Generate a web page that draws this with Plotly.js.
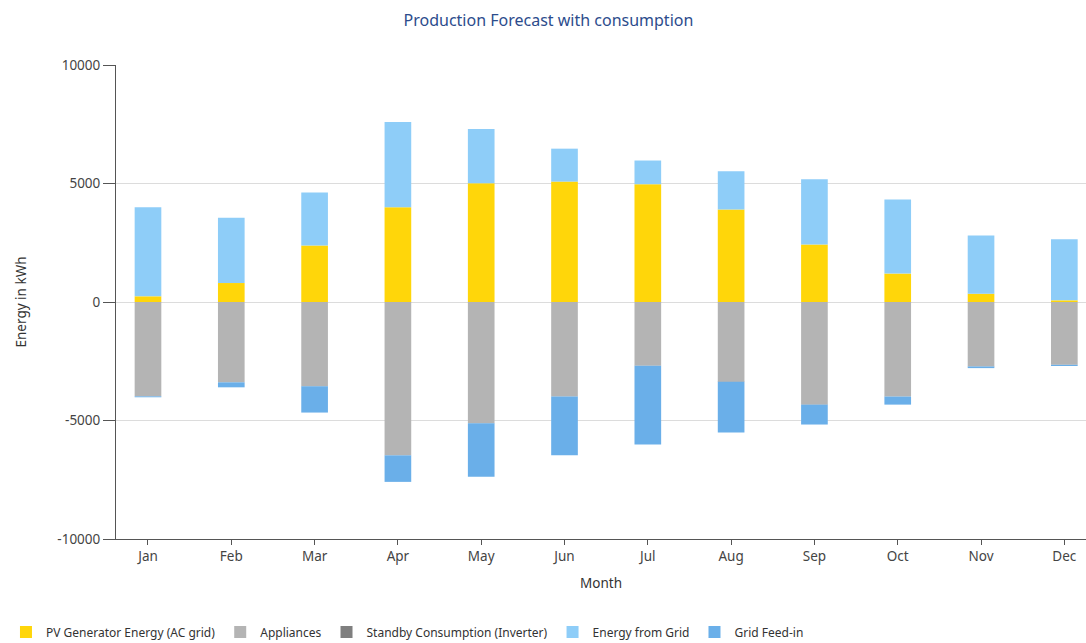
<!DOCTYPE html>
<html>
<head>
<meta charset="utf-8">
<script src="https://cdn.plot.ly/plotly-3.0.1.min.js"></script>
<style>html,body{margin:0;padding:0;background:#fff;}#chart{width:1086px;height:643px;}</style>
</head>
<body>
<div id="chart"></div>
<script>
var months = ['Jan','Feb','Mar','Apr','May','Jun','Jul','Aug','Sep','Oct','Nov','Dec'];
var pvGenerator = [240, 800, 2380, 4000, 5010, 5080, 4970, 3900, 2430, 1200, 350, 70];
var energyFromGrid = [3760, 2750, 2240, 3600, 2290, 1390, 1000, 1620, 2750, 3130, 2460, 2580];
var appliances = [-3970, -3380, -3545, -6460, -5110, -3980, -2680, -3360, -4320, -3980, -2710, -2640];
var standby = [-10, -10, -10, -10, -10, -10, -10, -10, -10, -10, -10, -10];
var gridFeedIn = [-40, -210, -1110, -1120, -2250, -2480, -3320, -2140, -840, -340, -70, -50];
var yTickVals = [-10000, -5000, 0, 5000, 10000];
var yTickText = ['-10000', '-5000', '0', '5000', '10000'];

var FONT = 'Noto Sans, Liberation Sans, sans-serif';
var bw = 0.32;
function bar(name, y, color) {
  return {type: 'bar', name: name, x: months, y: y, width: bw,
    marker: {color: color, line: {width: 0}}, hoverinfo: 'x+y+name'};
}
var data = [
  bar('PV Generator Energy (AC grid)', pvGenerator, '#FFD60A'),
  bar('Appliances', appliances, '#B4B4B4'),
  bar('Standby Consumption (Inverter)', standby, '#7F7F7F'),
  bar('Energy from Grid', energyFromGrid, '#8ECDF8'),
  bar('Grid Feed-in', gridFeedIn, '#6AAFE9')
];
var layout = {
  width: 1086, height: 643,
  paper_bgcolor: '#fff', plot_bgcolor: '#fff',
  margin: {l: 116, r: 0, t: 65, b: 104},
  barmode: 'relative',
  font: {family: FONT, size: 13, color: '#444'},
  title: {text: 'Production Forecast with consumption', x: 0.505, xanchor: 'center', y: 0.968, yanchor: 'middle',
    font: {family: FONT, size: 16, color: '#2C4C8C'}},
  xaxis: {type: 'category', range: [-0.384, 11.26], showgrid: false, showline: true, linecolor: '#555', linewidth: 1,
    ticks: 'outside', ticklen: 5, tickcolor: '#555', tickfont: {size: 13.5, color: '#444'},
    title: {text: 'Month', font: {size: 13.5, color: '#333'}, standoff: 14}, fixedrange: true},
  yaxis: {range: [-10000, 10000], tickvals: yTickVals, ticktext: yTickText, showgrid: true, gridcolor: '#DCDCDC',
    zeroline: false, showline: true, linecolor: '#555', linewidth: 1, ticks: 'outside', ticklen: 12, tickcolor: '#555',
    tickfont: {size: 13.5, color: '#444'},
    title: {text: 'Energy in kWh', font: {size: 13.5, color: '#333'}, standoff: 27}, fixedrange: true},
  showlegend: true,
  legend: {orientation: 'h', x: 0.0055, xref: 'container', xanchor: 'left', y: 0.017, yref: 'container', yanchor: 'middle',
    font: {size: 12, color: '#333'}, itemwidth: 30, tracegroupgap: 0, traceorder: 'normal'},
  bargap: 0.68
};
Plotly.newPlot('chart', data, layout, {displayModeBar: false, staticPlot: true});
</script>
</body>
</html>
